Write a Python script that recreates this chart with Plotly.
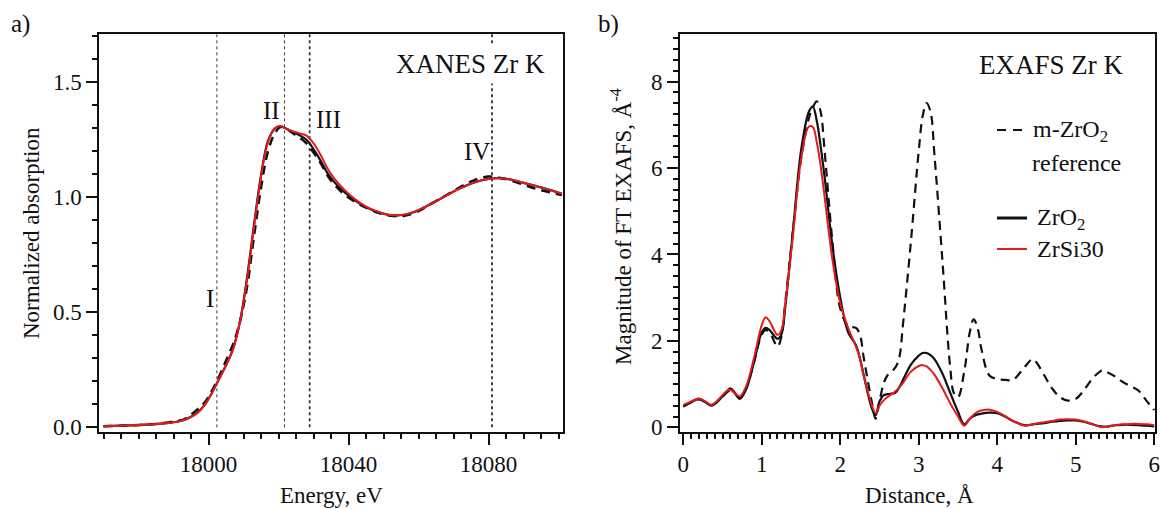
import plotly.graph_objects as go

# ---------------- data: XANES (panel a) ----------------
xanes_energy = [17970, 17975, 17980, 17985, 17990, 17993, 17995, 17997, 17999, 18001,
                18003, 18005, 18007, 18009, 18011, 18013, 18015, 18017, 18019, 18020.5,
                18022, 18024, 18026, 18028, 18030, 18032, 18034, 18036, 18039, 18042,
                18045, 18048, 18052, 18056, 18060, 18064, 18068, 18072, 18076, 18080,
                18083, 18086, 18090, 18094, 18098, 18101]
xanes_ref = [0.005, 0.007, 0.010, 0.015, 0.025, 0.035, 0.055, 0.080, 0.110, 0.160,
             0.220, 0.290, 0.360, 0.460, 0.610, 0.830, 1.040, 1.200, 1.280, 1.305,
             1.300, 1.280, 1.260, 1.235, 1.195, 1.150, 1.095, 1.055, 1.010, 0.980,
             0.955, 0.935, 0.920, 0.920, 0.940, 0.975, 1.010, 1.045, 1.075, 1.090,
             1.085, 1.075, 1.055, 1.035, 1.020, 1.010]
xanes_zro2 = [0.005, 0.007, 0.010, 0.014, 0.022, 0.032, 0.046, 0.066, 0.100, 0.150,
              0.210, 0.270, 0.340, 0.460, 0.650, 0.880, 1.095, 1.245, 1.300, 1.310,
              1.300, 1.285, 1.270, 1.250, 1.210, 1.160, 1.105, 1.065, 1.020, 0.985,
              0.958, 0.938, 0.922, 0.924, 0.944, 0.975, 1.008, 1.040, 1.065, 1.080,
              1.083, 1.078, 1.063, 1.047, 1.030, 1.015]
xanes_zrsi30 = [0.005, 0.007, 0.010, 0.014, 0.022, 0.032, 0.045, 0.065, 0.100, 0.150,
                0.210, 0.270, 0.340, 0.460, 0.640, 0.870, 1.090, 1.240, 1.300, 1.310,
                1.300, 1.287, 1.278, 1.268, 1.235, 1.185, 1.125, 1.080, 1.030, 0.990,
                0.960, 0.940, 0.923, 0.925, 0.945, 0.975, 1.008, 1.040, 1.065, 1.080,
                1.083, 1.078, 1.063, 1.047, 1.030, 1.015]
feature_energies = [18002.4, 18021.7, 18028.9, 18081.0]
feature_labels = ["I", "II", "III", "IV"]
feature_label_x = [18000.3, 18018.0, 18034.3, 18076.6]
feature_label_y = [0.561, 1.376, 1.337, 1.199]

# ---------------- data: EXAFS (panel b) ----------------
exafs_r = [0, 0.1, 0.2, 0.3, 0.36, 0.45, 0.55, 0.6, 0.65, 0.72, 0.8, 0.9, 1.0, 1.05, 1.1,
           1.2, 1.25, 1.3, 1.4, 1.5, 1.6, 1.65, 1.7, 1.75, 1.8, 1.9, 2.0, 2.1, 2.2, 2.25,
           2.3, 2.4, 2.45, 2.5, 2.55, 2.6, 2.7, 2.75, 2.8, 2.9, 3.0, 3.05, 3.1, 3.15, 3.2,
           3.3, 3.4, 3.45, 3.5, 3.58, 3.65, 3.7, 3.75, 3.8, 3.9, 4.0, 4.1, 4.2, 4.35, 4.45,
           4.5, 4.6, 4.7, 4.8, 4.9, 5.0, 5.1, 5.2, 5.3, 5.35, 5.4, 5.5, 5.6, 5.7, 5.8, 5.9, 6.0]
exafs_ref = [0.50, 0.58, 0.65, 0.57, 0.52, 0.62, 0.80, 0.86, 0.80, 0.68, 0.90, 1.50, 2.15, 2.25, 2.20,
             1.87, 2.10, 2.90, 4.60, 6.20, 7.15, 7.40, 7.54, 7.30, 6.40, 4.30, 2.75, 2.35, 2.30, 2.15,
             1.60, 0.60, 0.20, 0.60, 1.00, 1.20, 1.38, 1.60, 2.40, 4.30, 6.40, 7.20, 7.50, 7.30, 6.30,
             3.90, 1.40, 0.78, 0.70, 1.30, 2.20, 2.50, 2.30, 1.80, 1.20, 1.12, 1.10, 1.10, 1.40, 1.58,
             1.50, 1.20, 0.90, 0.70, 0.62, 0.66, 0.85, 1.10, 1.28, 1.32, 1.28, 1.18, 1.05, 0.95, 0.85, 0.62, 0.40]
exafs_zro2 = [0.48, 0.58, 0.66, 0.56, 0.50, 0.62, 0.82, 0.90, 0.82, 0.66, 0.88, 1.50, 2.20, 2.30, 2.25,
              2.05, 2.15, 2.80, 4.60, 6.40, 7.30, 7.42, 7.10, 6.50, 5.80, 4.20, 3.00, 2.20, 1.90, 1.60,
              1.20, 0.45, 0.28, 0.60, 0.74, 0.77, 0.80, 0.92, 1.10, 1.45, 1.66, 1.72, 1.72, 1.67, 1.58,
              1.25, 0.80, 0.58, 0.36, 0.07, 0.20, 0.26, 0.30, 0.32, 0.34, 0.33, 0.25, 0.15, 0.05, 0.07,
              0.08, 0.10, 0.13, 0.15, 0.16, 0.16, 0.13, 0.08, 0.03, 0.02, 0.02, 0.05, 0.06, 0.06, 0.05, 0.04, 0.02]
exafs_zrsi30 = [0.52, 0.60, 0.67, 0.58, 0.52, 0.65, 0.84, 0.87, 0.80, 0.72, 0.95, 1.60, 2.37, 2.55, 2.45,
                2.14, 2.25, 2.87, 4.49, 6.19, 6.96, 6.95, 6.60, 6.05, 5.34, 3.88, 2.87, 2.30, 1.87, 1.60,
                1.18, 0.52, 0.33, 0.50, 0.62, 0.70, 0.83, 0.92, 1.03, 1.29, 1.42, 1.44, 1.41, 1.33, 1.22,
                0.91, 0.56, 0.40, 0.25, 0.04, 0.20, 0.30, 0.36, 0.39, 0.41, 0.36, 0.26, 0.15, 0.04, 0.07,
                0.09, 0.12, 0.15, 0.18, 0.19, 0.18, 0.14, 0.08, 0.02, 0.01, 0.01, 0.05, 0.07, 0.08, 0.08, 0.07, 0.05]

# ---------------- figure ----------------
W, H = 1161, 509
FONT = "Liberation Serif"
RED = "#e41a1c"
BLK = "#111111"


def px(x):
    """screen pixel x -> paper fraction"""
    return x / W


def py(y):
    """screen pixel y -> paper fraction"""
    return 1 - y / H


fig = go.Figure()

# panel a
fig.add_trace(go.Scatter(x=xanes_energy, y=xanes_ref, mode="lines", line_shape="spline",
                         line=dict(color=BLK, width=2.5, dash="9px,6px"), xaxis="x", yaxis="y",
                         showlegend=False))
fig.add_trace(go.Scatter(x=xanes_energy, y=xanes_zro2, mode="lines", line_shape="spline",
                         line=dict(color=BLK, width=2.2), xaxis="x", yaxis="y", showlegend=False))
fig.add_trace(go.Scatter(x=xanes_energy, y=xanes_zrsi30, mode="lines", line_shape="spline",
                         line=dict(color=RED, width=2), xaxis="x", yaxis="y", showlegend=False))

# panel b
fig.add_trace(go.Scatter(x=exafs_r, y=exafs_ref, mode="lines", line_shape="spline",
                         line=dict(color=BLK, width=2.2, dash="9px,6px"), xaxis="x2", yaxis="y2",
                         showlegend=False))
fig.add_trace(go.Scatter(x=exafs_r, y=exafs_zro2, mode="lines", line_shape="spline",
                         line=dict(color=BLK, width=2.2), xaxis="x2", yaxis="y2", showlegend=False))
fig.add_trace(go.Scatter(x=exafs_r, y=exafs_zrsi30, mode="lines", line_shape="spline",
                         line=dict(color=RED, width=2), xaxis="x2", yaxis="y2", showlegend=False))

shapes = []
for i, e in enumerate(feature_energies):
    shapes.append(dict(type="line", xref="x", yref="y", x0=e, x1=e, y0=0, y1=1.71,
                       line=dict(color="#333333", width=1 if i < 2 else 1.8, dash="dot"),
                       layer="below"))

# legend samples (panel b)
shapes.append(dict(type="line", xref="paper", yref="paper", x0=px(997), x1=px(1026), y0=py(130), y1=py(130),
                   line=dict(color=BLK, width=2.2, dash="9px,7px")))
shapes.append(dict(type="line", xref="paper", yref="paper", x0=px(997), x1=px(1027), y0=py(218), y1=py(218),
                   line=dict(color=BLK, width=3)))
shapes.append(dict(type="line", xref="paper", yref="paper", x0=px(997), x1=px(1027), y0=py(249), y1=py(249),
                   line=dict(color=RED, width=2)))

annotations = []
for lab, lx, ly in zip(feature_labels, feature_label_x, feature_label_y):
    annotations.append(dict(text=lab, x=lx, y=ly, xref="x", yref="y", showarrow=False,
                            font=dict(family=FONT, size=25, color=BLK)))

common_txt = dict(showarrow=False, xref="paper", yref="paper")
annotations += [
    dict(text="XANES Zr K", x=px(550), y=py(64), xanchor="right", yanchor="middle",
         bgcolor="white", borderpad=4, font=dict(family=FONT, size=27, color=BLK), **common_txt),
    dict(text="EXAFS Zr K", x=px(1126), y=py(65), xanchor="right", yanchor="middle",
         bgcolor="white", font=dict(family=FONT, size=27, color=BLK), **common_txt),
    dict(text="a)", x=px(9), y=py(24), xanchor="left", yanchor="middle",
         font=dict(family=FONT, size=25, color=BLK), **common_txt),
    dict(text="b)", x=px(596), y=py(24), xanchor="left", yanchor="middle",
         font=dict(family=FONT, size=25, color=BLK), **common_txt),
    dict(text="Energy, eV", x=px(331), y=py(495), xanchor="center", yanchor="middle",
         font=dict(family=FONT, size=23, color=BLK), **common_txt),
    dict(text="Distance, Å", x=px(919), y=py(495), xanchor="center", yanchor="middle",
         font=dict(family=FONT, size=23, color=BLK), **common_txt),
    dict(text="Normalized absorption", x=px(32), y=py(233), xanchor="center", yanchor="middle",
         textangle=-90, font=dict(family=FONT, size=23, color=BLK), **common_txt),
    dict(text="Magnitude of FT EXAFS, Å<sup>-4</sup>", x=px(621), y=py(226), xanchor="center",
         yanchor="middle", textangle=-90, font=dict(family=FONT, size=23, color=BLK), **common_txt),
    dict(text="m-ZrO<sub>2</sub>", x=px(1031), y=py(131), xanchor="left", yanchor="middle",
         font=dict(family=FONT, size=24, color=BLK), **common_txt),
    dict(text="reference", x=px(1030), y=py(163), xanchor="left", yanchor="middle",
         font=dict(family=FONT, size=24, color=BLK), **common_txt),
    dict(text="ZrO<sub>2</sub>", x=px(1035), y=py(219), xanchor="left", yanchor="middle",
         font=dict(family=FONT, size=24, color=BLK), **common_txt),
    dict(text="ZrSi30", x=px(1035), y=py(249), xanchor="left", yanchor="middle",
         font=dict(family=FONT, size=24, color=BLK), **common_txt),
]

axis_common = dict(showline=True, linecolor=BLK, linewidth=2, mirror=True, showgrid=False,
                   zeroline=False, ticks="outside", tickcolor=BLK, tickwidth=1.5, ticklen=11,
                   automargin=False, tickfont=dict(family=FONT, size=23, color=BLK))

yd = [py(431.7), py(34)]
fig.update_layout(
    width=W, height=H,
    margin=dict(l=0, r=0, t=0, b=0, autoexpand=False),
    paper_bgcolor="white", plot_bgcolor="white",
    showlegend=False,
    xaxis=dict(domain=[px(99.3), px(562.7)], range=[17968.8, 18101.2], tick0=18000, dtick=40,
               tickformat="d",
               minor=dict(dtick=5, tick0=18000, ticks="outside", ticklen=5, tickcolor=BLK, tickwidth=1.5),
               anchor="y", **axis_common),
    yaxis=dict(domain=yd, range=[-0.019, 1.71], tick0=0, dtick=0.5, tickformat=".1f",
               minor=dict(dtick=0.1, tick0=0, ticks="outside", ticklen=5, tickcolor=BLK, tickwidth=1.5),
               anchor="x", **axis_common),
    xaxis2=dict(domain=[px(680), px(1155)], range=[-0.042, 6.01], tick0=0, dtick=1,
                minor=dict(dtick=0.1, tick0=0, ticks="outside", ticklen=5, tickcolor=BLK, tickwidth=1.5),
                anchor="y2", **axis_common),
    yaxis2=dict(domain=yd, range=[-0.1, 9.1], tick0=0, dtick=2,
                minor=dict(dtick=0.25, tick0=0, ticks="outside", ticklen=5, tickcolor=BLK, tickwidth=1.5),
                anchor="x2", **axis_common),
    shapes=shapes,
    annotations=annotations,
)

fig.write_html("out.html", config={"displayModeBar": False},
               post_script="document.body.style.margin='0';document.body.style.overflow='hidden';")
